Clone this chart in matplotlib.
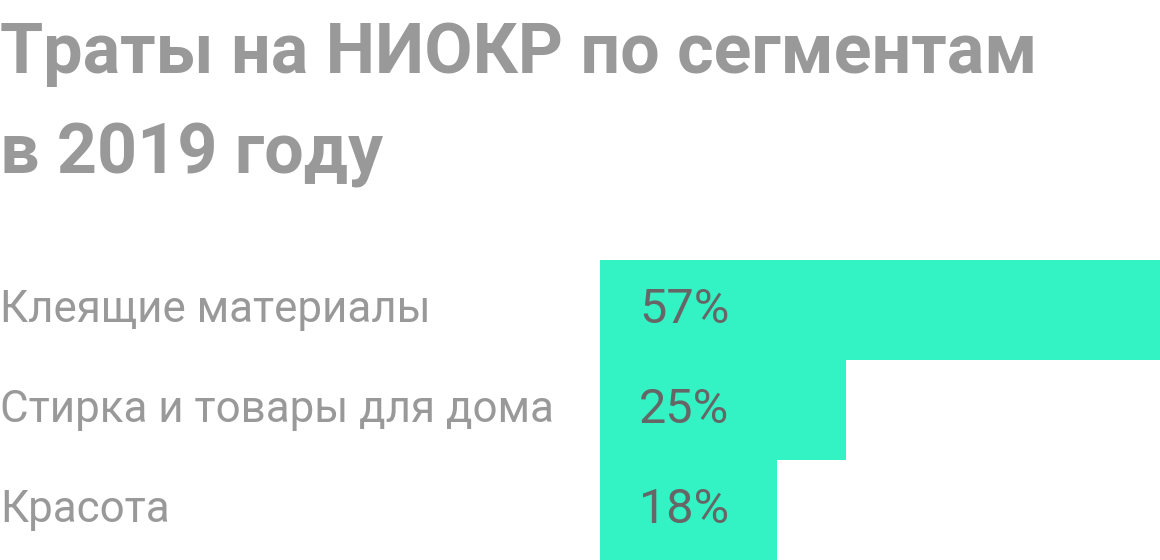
import matplotlib
matplotlib.use("Agg")
import matplotlib.pyplot as plt

categories = ["Клеящие материалы", "Стирка и товары для дома", "Красота"]
values = [57, 25, 18]
value_labels = ["57%", "25%", "18%"]
title_lines = ["Траты на НИОКР по сегментам", "в 2019 году"]

W, H, DPI = 1160, 560, 100
fig = plt.figure(figsize=(W / DPI, H / DPI), dpi=DPI)
fig.patch.set_facecolor("white")

ax = fig.add_axes([600 / W, 0, 560 / W, 300 / H])
ypos = list(range(len(categories)))
ax.barh(ypos, values, height=1.0, color="#33F2C4", edgecolor="none")
ax.set_xlim(0, max(values))
ax.set_ylim(len(categories) - 0.5, -0.5)
ax.axis("off")

for y, lab in zip(ypos, value_labels):
    ax.annotate(lab, xy=(0, y), xytext=(39, 0), textcoords="offset pixels",
                ha="left", va="center", fontsize=35, color="#666666",
                family="Roboto")

for y, cat in zip(ypos, categories):
    ax.annotate(cat, xy=(0, y), xycoords=("figure pixels", "data"),
                ha="left", va="center", fontsize=31.6, color="#999999",
                family="Roboto", annotation_clip=False)

fig.text(0, 1 - 73 / H, title_lines[0], ha="left", va="baseline",
         fontsize=50.4, fontweight="bold", color="#999999", family="Roboto")
fig.text(0, 1 - 173 / H, title_lines[1], ha="left", va="baseline",
         fontsize=50.4, fontweight="bold", color="#999999", family="Roboto")

fig.savefig("out.png", dpi=DPI, facecolor="white")
